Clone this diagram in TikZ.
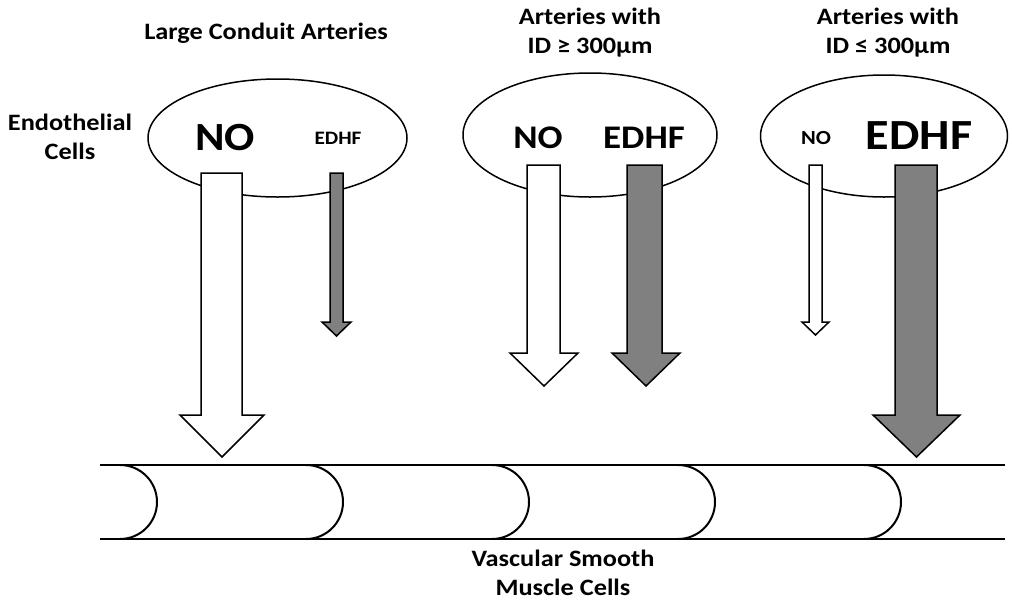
\documentclass[tikz,border=0pt]{standalone}
\usepackage{fontspec}
\setmainfont{Carlito}[FakeStretch=1.12]
\usetikzlibrary{shapes.geometric}
\begin{document}
\begin{tikzpicture}[x=1pt,y=-1pt,
  lbl/.style={font=\bfseries\fontsize{23.5}{29}\selectfont, align=center, inner sep=0pt},
  intext/.style={font=\bfseries\fontsize{#1}{#1}\selectfont, inner sep=0pt},
  cellbox/.style={ellipse, draw, line width=1.5pt, fill=white, inner sep=0pt},
  whitearrow/.style={draw, line width=1.5pt, fill=white, line join=miter},
  grayarrow/.style={draw, line width=1.5pt, fill=gray, line join=miter},
  tubeline/.style={line width=1.6pt},
  tubearc/.style={line width=2pt}]
\useasboundingbox (0,0) rectangle (1013,603);
% labels
\node[lbl] (t1) at (266,33) {Large Conduit Arteries};
\node[lbl] (t2) at (590,33) {Arteries with\\ID ≥ 300µm};
\node[lbl] (t3) at (888,33) {Arteries with\\ID ≤ 300µm};
\node[lbl] (endo) at (70,137) {Endothelial\\Cells};
\node[lbl] (vsmc) at (563,573) {Vascular Smooth\\Muscle Cells};
% endothelial cells
\node[cellbox, minimum width=259, minimum height=118] (e1) at (277.5,138) {};
\node[cellbox, minimum width=254, minimum height=124] (e2) at (590,135) {};
\node[cellbox, minimum width=247, minimum height=122] (e3) at (884,136) {};
\node[intext=40] (no1) at (225,138) {NO};
\node[intext=19] (ed1) at (338,138) {EDHF};
\node[intext=33] (no2) at (538,138) {NO};
\node[intext=33] (ed2) at (644,138) {EDHF};
\node[intext=20] (no3) at (816,138) {NO};
\node[intext=43] (ed3) at (919,136) {EDHF};
% block arrows: #1 style, shaft l, shaft r, head l, head r, top, base, tip
\newcommand\blockarr[8]{%
  \draw[#1] (#2,#6) -- (#3,#6) -- (#3,#7) -- (#5,#7) -- ({(#4+#5)/2},#8)
    -- (#4,#7) -- (#2,#7) -- cycle;}
\blockarr{whitearrow}{201}{242}{180}{264}{173}{415}{457}
\blockarr{grayarrow}{330}{343}{322}{351}{173}{322}{336}
\blockarr{whitearrow}{527}{560}{510}{578}{165}{353}{386}
\blockarr{grayarrow}{627}{662}{612}{680}{165}{353}{386}
\blockarr{whitearrow}{809}{822}{802}{829}{165}{322}{335}
\blockarr{grayarrow}{895}{937}{873}{960}{165}{415}{457}
% vascular smooth muscle tube
\coordinate (tl) at (100,465);
\coordinate (tr) at (1005,465);
\coordinate (bl) at (100,539);
\coordinate (br) at (1005,539);
\draw[tubeline] (tl) -- (tr);
\draw[tubeline] (bl) -- (br);
\foreach \xs in {120,306,492,678,864}{
  \draw[tubearc] (\xs,465) arc[start angle=-90, end angle=90, radius=37];
}
\end{tikzpicture}
\end{document}
